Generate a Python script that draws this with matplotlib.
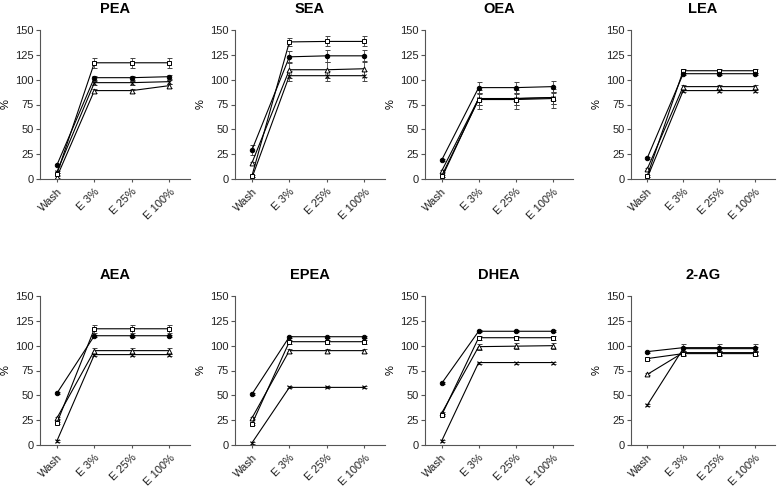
import numpy as np
import matplotlib.pyplot as plt

plt.rcParams['font.family'] = ['Liberation Sans', 'DejaVu Sans']

panels = ["PEA", "SEA", "OEA", "LEA", "AEA", "EPEA", "DHEA", "2-AG"]
steps = ["Wash", "E 3%", "E 25%", "E 100%"]

# mean values per series, one row per panel
circle = [[14, 102, 102, 103], [29, 123, 124, 124], [19, 92, 92, 93], [21, 106, 106, 106],
          [52, 110, 110, 110], [51, 109, 109, 109], [62, 114.5, 114.5, 114.5], [94, 98, 98, 98]]
square = [[5, 117, 117, 117], [3, 138, 138.5, 138.5], [3, 80, 80, 81], [3, 109, 109, 109],
          [22, 117, 117, 117], [21, 104, 104, 104], [30, 108, 108, 108], [87, 92, 92, 92]]
triangle = [[2, 89, 89, 94], [16, 110, 110, 111], [8, 81, 81, 82], [10, 93, 93, 93],
            [27, 95, 95, 95], [27, 95, 95, 95], [32, 99, 99.5, 100], [71, 93, 93, 93]]
cross = [[7, 97, 97, 98], [1, 104, 104, 104], [1, 81, 81, 82], [1, 89, 89, 89],
         [4, 91, 91, 91], [2, 58, 58, 58], [4, 83, 83, 83], [40, 97, 97, 97]]

# error bars (+/-)
circle_err = [[1, 2, 2, 2], [5, 6, 6, 6], [1, 6, 6, 6], [1, 1, 1, 1],
              [1, 1, 1, 1], [1, 1, 1, 1], [1, 1, 1, 1], [1, 4, 4, 4]]
square_err = [[1, 5, 5, 5], [1, 4, 5, 5], [1, 10, 10, 10], [1, 2, 2, 2],
              [1, 4, 4, 4], [1, 2, 2, 2], [1, 2, 2, 2], [1, 2, 2, 2]]
triangle_err = [[1, 2, 2, 2], [1, 8, 8, 8], [1, 6, 6, 6], [1, 2, 2, 2],
                [1, 3, 3, 3], [1, 2, 2, 2], [1, 3, 3, 3], [1, 2, 2, 2]]
cross_err = [[1, 2, 2, 2], [1, 5, 5, 5], [1, 6, 6, 6], [1, 1, 1, 1],
             [1, 1, 1, 1], [1, 1, 1, 1], [1, 1, 1, 1], [1, 2, 2, 2]]

# axes boxes in pixels
lefts = [40, 235, 425, 631]
widths = [150, 150, 148, 144]

fig = plt.figure(figsize=(7.82, 4.88), dpi=100)
W, H = 782.0, 488.0
x = np.arange(len(steps))

series = [(cross, cross_err, dict(marker="x", ms=3, mfc="none")),
          (triangle, triangle_err, dict(marker="^", ms=3.5, mfc="white")),
          (square, square_err, dict(marker="s", ms=3.3, mfc="white")),
          (circle, circle_err, dict(marker="o", ms=3.2, mfc="black"))]

for k, name in enumerate(panels):
    row, col = divmod(k, 4)
    bottom_px = 179 if row == 0 else 445
    ax = fig.add_axes([lefts[col] / W, (H - bottom_px) / H, widths[col] / W, 149 / H])
    for vals, errs, style in series:
        ax.errorbar(x, vals[k], yerr=errs[k], color="black", lw=0.8, mec="black", mew=0.7,
                    elinewidth=0.6, capsize=1.8, capthick=0.6, ecolor="#444444", **style)
    ax.set_xlim(-0.45, 3.55)
    ax.set_ylim(0, 150)
    ax.set_yticks([0, 25, 50, 75, 100, 125, 150])
    ax.set_xticks(x)
    ax.set_xticklabels(steps, rotation=45, ha="right", rotation_mode="anchor")
    ax.tick_params(labelsize=8, length=3, width=0.8, color="#555555", labelcolor="#222222", pad=1.5)
    ax.tick_params(axis="x", length=2, pad=3.5)
    for s in ["top", "right"]:
        ax.spines[s].set_visible(False)
    for s in ["left", "bottom"]:
        ax.spines[s].set_color("#555555")
        ax.spines[s].set_linewidth(0.8)
    ax.set_ylabel("%", fontsize=8)
    ax.yaxis.set_label_coords(-29 / widths[col], 0.5)
    ax.set_title(name, fontsize=10.5, fontweight="bold", pad=12)

plt.savefig("out.png", dpi=100)
